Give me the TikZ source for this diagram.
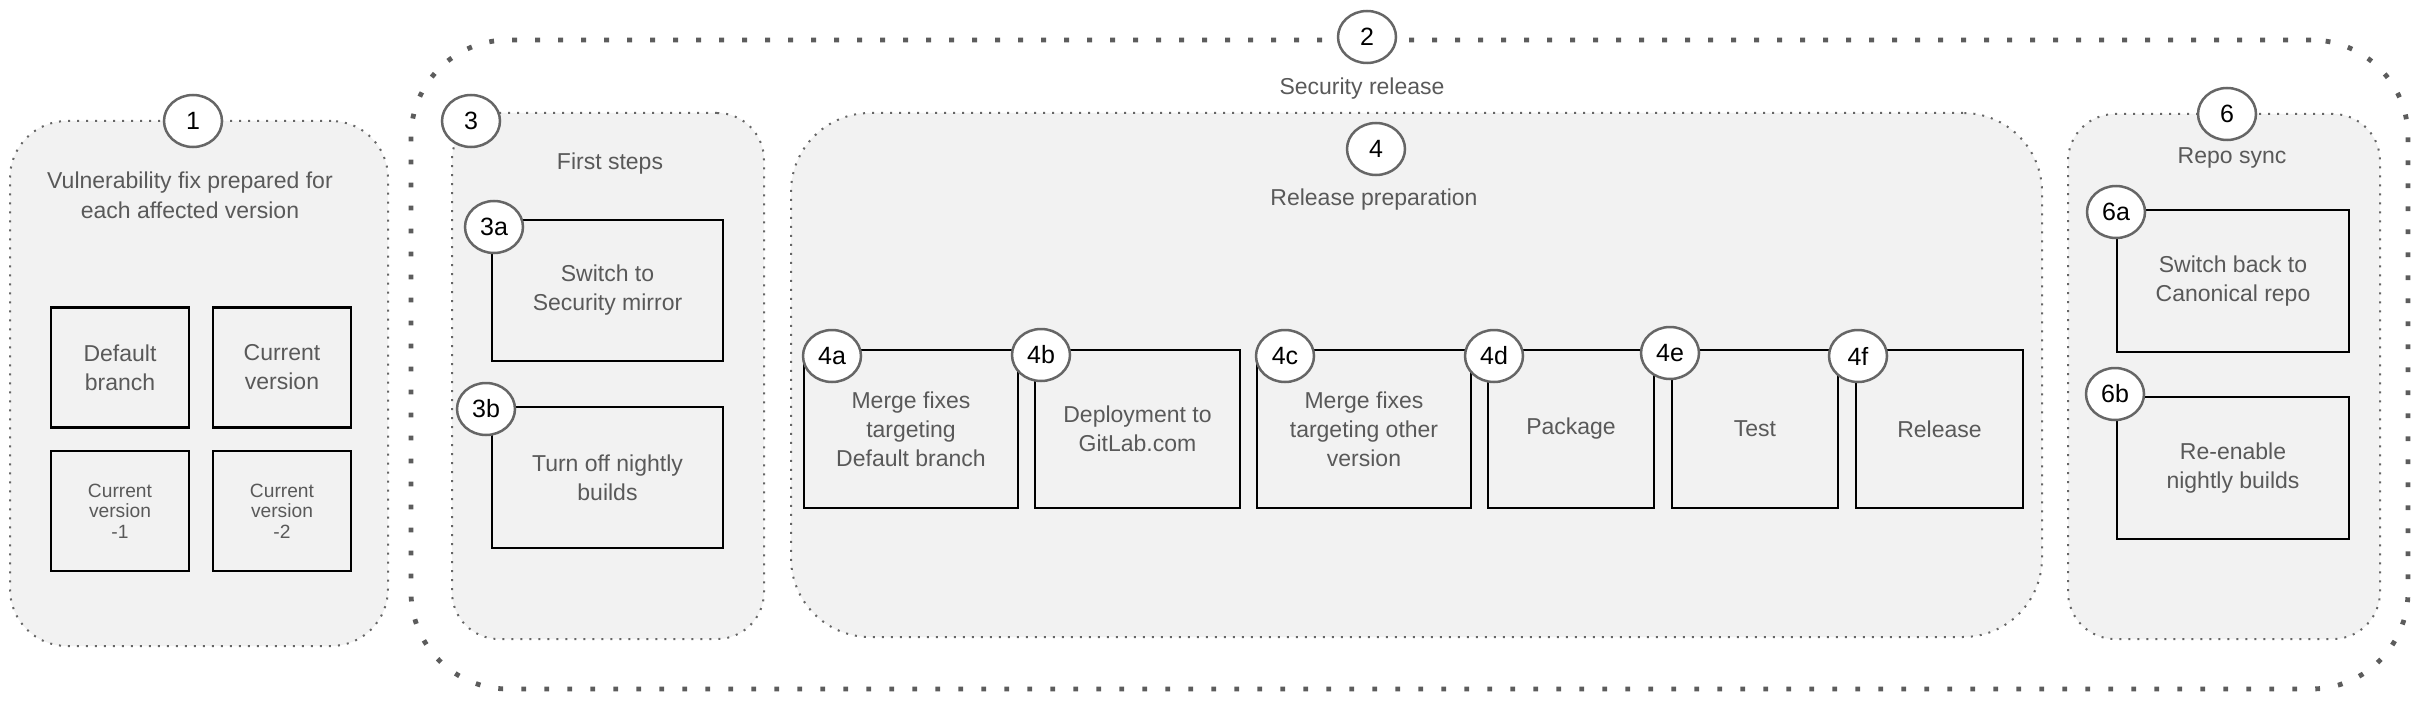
\documentclass[tikz,border=0pt]{standalone}
\usepackage{fontspec}
\setmainfont{Liberation Sans}
\usetikzlibrary{shapes.geometric}
\definecolor{txt}{RGB}{89,89,89}
\definecolor{grpfill}{RGB}{242,242,242}
\definecolor{ring}{RGB}{102,102,102}

\begin{document}
\begin{tikzpicture}[x=0.5pt,y=-0.5pt,
    main/.style = {draw=ring, line width=1.25pt, fill=white, ellipse, inner sep=0pt, minimum width=29pt, minimum height=26pt, font=\fontsize{12.5}{15}\selectfont},
    box/.style = {draw, line width=1.2pt, text=txt, align=center, font=\fontsize{11.5}{14.5}\selectfont},
    small/.style = {font=\fontsize{9.6}{10.2}\selectfont},
    heading/.style = {text=txt, align=center, font=\fontsize{11.5}{15}\selectfont},
    grp/.style = {draw=ring, fill=grpfill, line width=1pt, dash pattern=on 1pt off 3.5pt, rounded corners=#1}]
        \useasboundingbox (0,0) rectangle (2420,706);

        \node[draw=ring!90!black, line width=2.4pt, dash pattern=on 2.4pt off 9.1pt, rounded corners=48.5pt, minimum width=998.5pt, minimum height=324.5pt](g2) at (1409.5,364.5) {};
        \node[grp=28.5pt, minimum width=189pt, minimum height=262.5pt](g1) at (199,383.5) {};
        \node[grp=23.5pt, minimum width=156pt, minimum height=263pt](g3) at (608,376) {};
        \node[grp=39.5pt, minimum width=625.5pt, minimum height=262pt](g4) at (1416.5,375) {};
        \node[grp=23.5pt, minimum width=156pt, minimum height=262.5pt](g6) at (2224,376.5) {};

        \node[heading](t1) at (190,195) {Vulnerability fix prepared for\\each affected version};
        \node[heading](t2) at (1362,89) {Security release};
        \node[heading](t3) at (610,164) {First steps};
        \node[heading](t4) at (1374,200) {Release preparation};
        \node[heading](t6) at (2232,158) {Repo sync};

        \node[box, minimum width=69pt, minimum height=60pt](db) at (120,367.5) {Default\\branch};
        \node[box, minimum width=69pt, minimum height=60pt](cv) at (282,367.5) {Current\\version};
        \node[box, small, minimum width=69pt, minimum height=60pt](cv1) at (120,511) {Current\\version\\-1};
        \node[box, small, minimum width=69pt, minimum height=60pt](cv2) at (282,511) {Current\\version\\-2};

        \node[box, minimum width=115.5pt, minimum height=70.5pt](b3a) at (607.5,290.5) {Switch to\\Security mirror};
        \node[box, minimum width=115.5pt, minimum height=70.5pt](b3b) at (607.5,477.5) {Turn off nightly\\builds};

        \node[box, minimum width=107pt, minimum height=79pt](b4a) at (911,429) {Merge fixes\\targeting\\Default branch};
        \node[box, minimum width=102.5pt, minimum height=79pt](b4b) at (1137.5,429) {Deployment to\\GitLab.com};
        \node[box, minimum width=107pt, minimum height=79pt](b4c) at (1364,429) {Merge fixes\\targeting other\\version};
        \node[box, minimum width=83pt, minimum height=79pt](b4d) at (1571,429) {Package};
        \node[box, minimum width=83pt, minimum height=79pt](b4e) at (1755,429) {Test};
        \node[box, minimum width=83.5pt, minimum height=79pt](b4f) at (1939.5,429) {Release};

        \node[box, minimum width=116pt, minimum height=71pt](b6a) at (2233,281) {Switch back to\\Canonical repo};
        \node[box, minimum width=116pt, minimum height=71pt](b6b) at (2233,468) {Re-enable\\nightly builds};

        \node[main](1) at (193,121) {1};
        \node[main](2) at (1367,37) {2};
        \node[main](3) at (471,121) {3};
        \node[main](3a) at (494,227) {3a};
        \node[main](3b) at (486,409) {3b};
        \node[main](4) at (1376,149) {4};
        \node[main](4a) at (832,356) {4a};
        \node[main](4b) at (1041,355) {4b};
        \node[main](4c) at (1285,356) {4c};
        \node[main](4d) at (1494,356) {4d};
        \node[main](4e) at (1670,353) {4e};
        \node[main](4f) at (1858,356) {4f};
        \node[main](6) at (2227,114) {6};
        \node[main](6a) at (2116,212) {6a};
        \node[main](6b) at (2115,394) {6b};
      \end{tikzpicture}
\end{document}
